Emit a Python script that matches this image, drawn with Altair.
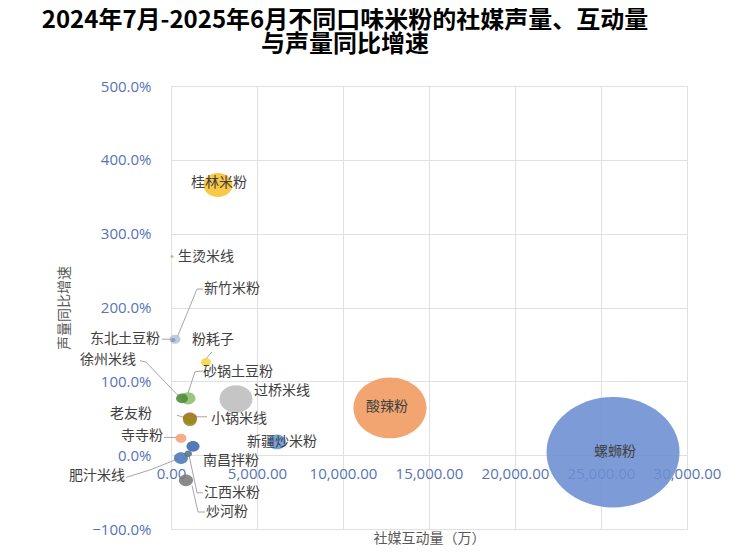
import altair as alt
import pandas as pd

# ---- data ----
names = ["螺蛳粉", "酸辣粉", "过桥米线", "桂林米粉", "新疆炒米粉", "砂锅土豆粉", "肥汁米线",
         "老友粉", "炒河粉", "小锅米线", "南昌拌粉", "徐州米线", "寺寺粉", "东北土豆粉",
         "粉耗子", "江西米粉", "新竹米粉", "生烫米线"]
interaction = [25700, 12730, 3780, 2730, 6160, 990, 580, 1100, 870, 1100, 1280, 640, 580,
               230, 2035, 1000, 116, 60]                      # 社媒互动量（万）
growth_pct = [4, 64, 76, 366, 18, 77, -4, 50, -34, 47, 12, 77, 23, 157, 126, 2, 156, 269]
volume = [1769, 533, 109, 84, 32, 22, 20, 20, 20, 18, 17, 14, 12, 12, 10, 6, 2.5, 1]  # bubble size
colors = ["#6b8ed1", "#f0995c", "#bdbdbd", "#f6c22b", "#6497d6", "#8cc068", "#4b78b5",
          "#a8661a", "#7a7a7a", "#9a8a20", "#3b66ad", "#4f8a3a", "#f3a07a", "#b8c4d4",
          "#f5d547", "#5a6e8c", "#7a9ccc", "#a9c25a"]

# label placement (data units) and alignment
label_names = ["螺蛳粉", "酸辣粉", "过桥米线", "桂林米粉", "新疆炒米粉", "砂锅土豆粉", "肥汁米线",
               "老友粉", "炒河粉", "小锅米线", "南昌拌粉", "徐州米线", "寺寺粉", "东北土豆粉",
               "粉耗子", "江西米粉", "新竹米粉", "生烫米线"]
label_x = [25814, 12558, 6453, 2790, 6453, 1860, -2674, -1105, 2035, 2326, 1860, -2035, -465,
           -640, 2442, 1919, 1919, 407]
label_y = [4, 65, 87, 368, 18, 113, -28, 56, -77, 49, -8, 129, 26, 157, 156, -51, 225, 269]
label_align = ["center", "center", "center", "center", "center", "left", "right", "right",
               "left", "left", "left", "right", "right", "right", "center", "left", "left", "left"]

# leader lines (polyline vertices in data units)
leader_name = ["新竹米粉"] * 3 + ["东北土豆粉"] * 2 + ["粉耗子"] * 2 + ["徐州米线"] * 3 + \
              ["砂锅土豆粉"] * 3 + ["老友粉"] * 2 + ["小锅米线"] * 2 + ["寺寺粉"] * 2 + \
              ["肥汁米线"] * 3 + ["江西米粉"] * 3 + ["炒河粉"] * 3
leader_x = [349, 1512, 1860, -523, 0, 1977, 2384, -1802, -1453, 523, 1860, 1395, 988,
            349, 930, 2093, 1221, -407, 349, -2600, -1221, 407, 1860, 1512, 1047,
            1977, 1570, 1221]
leader_y = [159, 225, 225, 157, 157, 129, 140, 128, 126, 78, 114, 113, 84,
            54, 50, 52, 52, 24, 24, -30, -20, -5, -51, -51, 0, -77, -77, -41]

# ---- tables ----
df = pd.DataFrame({"name": names, "x": interaction,
                   "y": [v / 100 for v in growth_pct], "vol": volume})
lab = pd.DataFrame({"name": label_names, "x": label_x,
                    "y": [v / 100 for v in label_y], "align": label_align})
seq = []
cnt = {}
for n in leader_name:
    cnt[n] = cnt.get(n, 0) + 1
    seq.append(cnt[n])
lead = pd.DataFrame({"name": leader_name, "x": leader_x,
                     "y": [v / 100 for v in leader_y], "seq": seq})

FONT = "Noto Sans CJK SC"
xscale = alt.Scale(domain=[0, 30000], nice=False, zero=False)
yscale = alt.Scale(domain=[-1, 5], nice=False, zero=False)

ellipse = "M-1,0A1,0.83 0 1,0 1,0A1,0.83 0 1,0 -1,0Z"

x_enc = alt.X("x:Q", scale=xscale,
              axis=alt.Axis(title="社媒互动量（万）", format=",.2f",
                            values=[0, 5000, 10000, 15000, 20000, 25000, 30000],
                            labelOverlap=False, labelFlush=False,
                            offset=-74, domain=False, ticks=False, labelPadding=11,
                            labelColor="#5773b5", labelFontSize=15, labelFont="Open Sans",
                            titleY=83, titleFont=FONT, titleFontSize=14, titleColor="#595959",
                            titleFontWeight="normal", titleBaseline="middle",
                            gridColor="#e0e0e0"))
y_enc = alt.Y("y:Q", scale=yscale,
              axis=alt.Axis(title="声量同比增速", format=".1%", values=[-1, 0, 1, 2, 3, 4, 5],
                            labelOverlap=False, labelFlush=False,
                            domain=False, ticks=False, labelPadding=20,
                            labelColor="#5773b5", labelFontSize=15, labelFont="Open Sans",
                            titleFont=FONT, titleFontSize=14, titleColor="#595959",
                            titleFontWeight="normal", titlePadding=20,
                            gridColor="#e0e0e0"))

bubbles = alt.Chart(df).mark_point(shape=ellipse, filled=True, opacity=0.88, strokeWidth=0).encode(
    x=x_enc, y=y_enc,
    size=alt.Size("vol:Q", scale=alt.Scale(type="linear", domain=[0, 1769], range=[0, 17689]), legend=None),
    color=alt.Color("name:N", scale=alt.Scale(domain=names, range=colors), legend=None),
    order=alt.Order("vol:Q", sort="descending"),
)

leaders = alt.Chart(lead).mark_line(color="#a6a6a6", strokeWidth=1).encode(
    x=alt.X("x:Q", scale=xscale), y=alt.Y("y:Q", scale=yscale),
    detail="name:N", order="seq:Q")

def text_layer(al):
    return alt.Chart(lab).transform_filter(alt.datum.align == al).mark_text(
        align=al, baseline="middle", font=FONT, fontSize=14, color="#404040").encode(
        x=alt.X("x:Q", scale=xscale), y=alt.Y("y:Q", scale=yscale), text="name:N")

chart = alt.layer(leaders, bubbles, text_layer("left"), text_layer("right"), text_layer("center")).properties(
    width=516, height=443,
    title=alt.TitleParams("2024年7月-2025年6月不同口味米粉的社媒声量、互动量",
                          subtitle="与声量同比增速",
                          font=FONT, fontSize=24, fontWeight="bold", color="#000000",
                          subtitleFont=FONT, subtitleFontSize=24, subtitleFontWeight="bold",
                          subtitleColor="#000000", subtitlePadding=0, subtitleLineHeight=24,
                          lineHeight=24,
                          anchor="middle", dx=-84, offset=22),
    autosize=alt.AutoSizeParams(type="none"),
    padding={"left": 163, "top": 78, "right": 55, "bottom": 17},
).configure_view(stroke="#d9d9d9").configure(background="white")

chart.save("out.html", embed_options={"renderer": "svg", "actions": False})
